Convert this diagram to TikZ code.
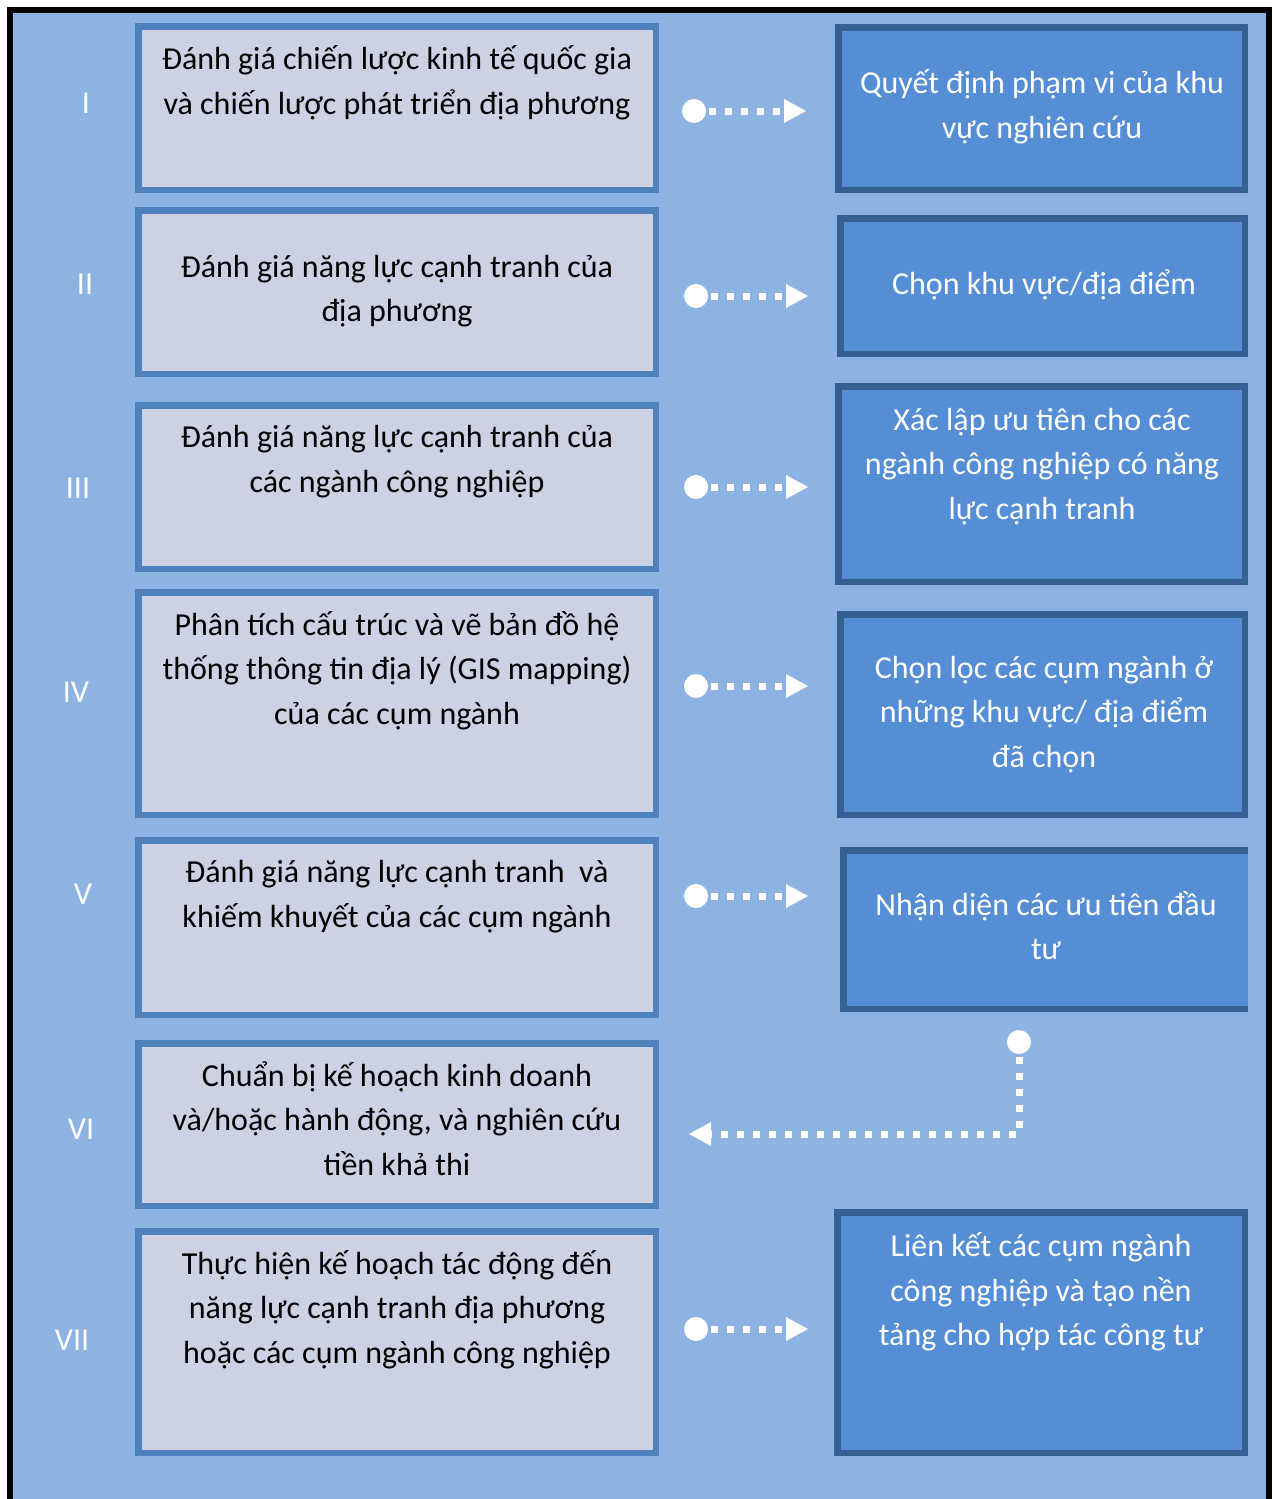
\documentclass[tikz,border=0pt]{standalone}
\usepackage{fontspec}
\setmainfont{Carlito}
\usetikzlibrary{arrows.meta}
\definecolor{bgblue}{HTML}{8DB3E2}
\definecolor{lfill}{HTML}{CDD1E4}
\definecolor{lborder}{HTML}{4F81BD}
\definecolor{rfill}{HTML}{558ED5}
\definecolor{rborder}{HTML}{376092}
% fixed-height struts so multi-line labels centre on their lines
\newcommand\boxtxt[1]{\rule{0pt}{34pt}#1\rule[-18pt]{0pt}{18pt}}
\begin{document}
\begin{tikzpicture}[x=1pt,y=-1pt,
  lbox/.style={draw=lborder, fill=lfill, line width=6.5pt, inner sep=0pt, minimum width=517.5pt},
  rbox/.style={draw=rborder, fill=rfill, line width=6.5pt, inner sep=0pt},
  ltext/.style={align=center, inner sep=0pt, text=black, font=\fontsize{32}{44.5}\selectfont},
  rtext/.style={align=center, inner sep=0pt, text=white, font=\fontsize{32}{44.5}\selectfont},
  num/.style={inner sep=0pt, text=white, font=\fontsize{32}{38}\selectfont},
  flow/.style={draw=white, line width=7pt, dash pattern=on 7pt off 9pt, dash phase=13pt,
    arrows={Circle[length=24pt,width=24pt,line width=0pt]-Triangle[length=22pt,width=24pt,line width=0pt]}}
]
\useasboundingbox (0,0) rectangle (1272,1499);
% page frame
\fill[white] (0,0) rectangle (1272,1499);
\fill[black] (7,7) rectangle (1272,1499);
\fill[bgblue] (13,13) rectangle (1266,1499);

% left column: analysis steps
\node[lbox, minimum height=163.5pt] (L1) at (397,108) {};
\node[lbox, minimum height=163.5pt] (L2) at (397,292) {};
\node[lbox, minimum height=163.5pt] (L3) at (397,487) {};
\node[lbox, minimum height=222.5pt] (L4) at (397,703.5) {};
\node[lbox, minimum height=174.5pt] (L5) at (397,927.5) {};
\node[lbox, minimum height=162.5pt] (L6) at (397,1124.5) {};
\node[lbox, minimum height=221.5pt] (L7) at (397,1342) {};

\node[ltext] (t1) at (397,84) {\boxtxt{Đánh giá chiến lược kinh tế quốc gia\\và chiến lược phát triển địa phương}};
\node[ltext] (t2) at (397,291.5) {\boxtxt{Đánh giá năng lực cạnh tranh của\\địa phương}};
\node[ltext] (t3) at (397,462) {\boxtxt{Đánh giá năng lực cạnh tranh của\\các ngành công nghiệp}};
\node[ltext] (t4) at (397,671.5) {\boxtxt{Phân tích cấu trúc và vẽ bản đồ hệ\\thống thông tin địa lý (GIS mapping)\\của các cụm ngành}};
\node[ltext] (t5) at (397,897) {\boxtxt{Đánh giá năng lực cạnh tranh\ \ và\\khiếm khuyết của các cụm ngành}};
\node[ltext] (t6) at (397,1122.5) {\boxtxt{Chuẩn bị kế hoạch kinh doanh\\và/hoặc hành động, và nghiên cứu\\tiền khả thi}};
\node[ltext] (t7) at (397,1310.5) {\boxtxt{Thực hiện kế hoạch tác động đến\\năng lực cạnh tranh địa phương\\hoặc các cụm ngành công nghiệp}};

% right column: outcomes
\node[rbox, minimum width=406.5pt, minimum height=162.5pt] (R1) at (1041.5,108.5) {};
\node[rbox, minimum width=404.5pt, minimum height=135.5pt] (R2) at (1042.5,286) {};
\node[rbox, minimum width=406.5pt, minimum height=195.5pt] (R3) at (1041.5,484) {};
\node[rbox, minimum width=404.5pt, minimum height=200.5pt] (R4) at (1042.5,714.5) {};
\node[rbox, minimum width=401.5pt, minimum height=158.5pt] (R5) at (1044,929.5) {};
% this box has no border on its right side
\fill[rfill] ([xshift=-6.5pt,yshift=-6.5pt]R5.north east) rectangle ([yshift=6.5pt]R5.south east);
\node[rbox, minimum width=407.5pt, minimum height=240.5pt] (R7) at (1041,1332.5) {};

\node[rtext] (u1) at (1042,108) {\boxtxt{Quyết định phạm vi của khu\\vực nghiên cứu}};
\node[rtext] (u2) at (1044,286) {\boxtxt{Chọn khu vực/địa điểm}};
\node[rtext] (u3) at (1042,466.5) {\boxtxt{Xác lập ưu tiên cho các\\ngành công nghiệp có năng\\lực cạnh tranh}};
\node[rtext] (u4) at (1044,714.5) {\boxtxt{Chọn lọc các cụm ngành ở\\những khu vực/ địa điểm\\đã chọn}};
\node[rtext] (u5) at (1046,929.5) {\boxtxt{Nhận diện các ưu tiên đầu\\tư}};
\node[rtext] (u7) at (1041,1293) {\boxtxt{Liên kết các cụm ngành\\công nghiệp và tạo nền\\tảng cho hợp tác công tư}};

% step numbers
\node[num] (n1) at (86,103) {I};
\node[num] (n2) at (85,284) {II};
\node[num] (n3) at (78,488) {III};
\node[num] (n4) at (76,692) {IV};
\node[num] (n5) at (83,894) {V};
\node[num] (n6) at (81,1129) {VI};
\node[num] (n7) at (72,1340) {VII};

% connector rows
\coordinate (a1) at (0,111);
\coordinate (a2) at (0,296);
\coordinate (a3) at (0,487);
\coordinate (a4) at (0,686);
\coordinate (a5) at (0,896);
\coordinate (a7) at (0,1329);
\coordinate (bend) at (1019,1134);

\draw[flow, shorten <=23pt, shorten >=29pt] (L1.east |- a1) -- (R1.west |- a1);
\draw[flow, shorten <=25pt, shorten >=29pt] (L2.east |- a2) -- (R2.west |- a2);
\draw[flow, shorten <=25pt, shorten >=27pt] (L3.east |- a3) -- (R3.west |- a3);
\draw[flow, shorten <=25pt, shorten >=29pt] (L4.east |- a4) -- (R4.west |- a4);
\draw[flow, shorten <=25pt, shorten >=32pt] (L5.east |- a5) -- (R5.west |- a5);
\draw[flow, shorten <=25pt, shorten >=26pt] (L7.east |- a7) -- (R7.west |- a7);
\draw[flow, shorten <=18pt, shorten >=30pt] (R5.south -| bend) -- (bend) -- (L6.east |- bend);
\end{tikzpicture}
\end{document}
